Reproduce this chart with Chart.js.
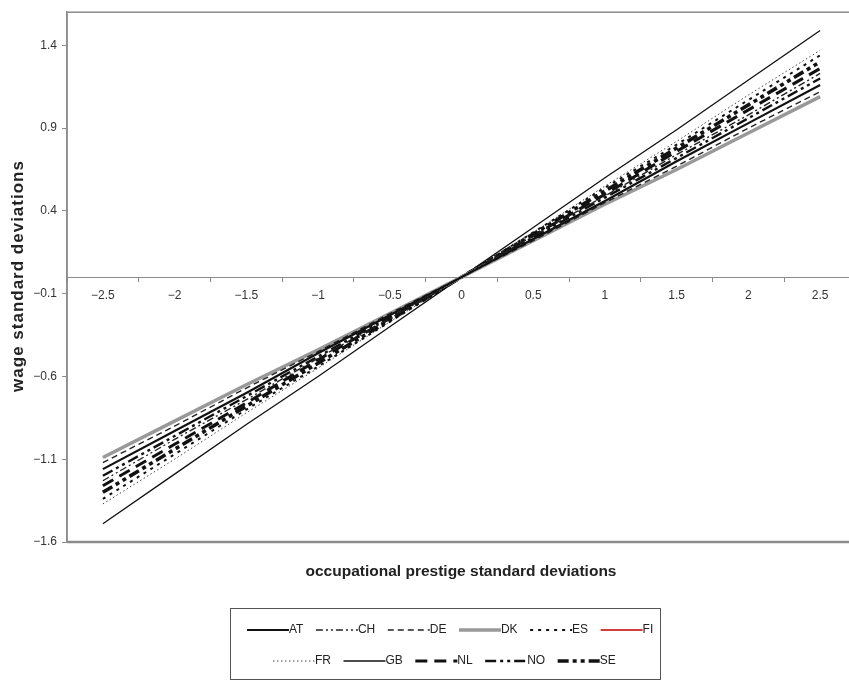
<!DOCTYPE html>
<html>
<head>
<meta charset="utf-8">
<script src="https://cdn.jsdelivr.net/npm/chart.js@4.4.1/dist/chart.umd.min.js"></script>
<style>
  html, body { margin: 0; background: #fff; overflow: hidden; }
  .wrap { width: 856px; height: 682px; position: relative; }
</style>
</head>
<body>
<div class="wrap"><canvas id="diagram"></canvas></div>
<script>
const xLabels = ["−2.5", "−2", "−1.5", "−1", "−0.5", "0", "0.5", "1", "1.5", "2", "2.5"];
const yTicks = [-1.6, -1.1, -0.6, -0.1, 0.4, 0.9, 1.4];

// values (wage sd at each prestige sd)
const AT = [-1.16, -0.93, -0.70, -0.46, -0.23, 0, 0.23, 0.46, 0.70, 0.93, 1.16];
const CH = [-1.23, -0.98, -0.74, -0.49, -0.25, 0, 0.25, 0.49, 0.74, 0.98, 1.23];
const DE = [-1.12, -0.90, -0.67, -0.45, -0.22, 0, 0.22, 0.45, 0.67, 0.90, 1.12];
const DK = [-1.09, -0.87, -0.65, -0.44, -0.22, 0, 0.22, 0.44, 0.65, 0.87, 1.09];
const ES = [-1.34, -1.07, -0.80, -0.54, -0.27, 0, 0.27, 0.54, 0.80, 1.07, 1.34];
const FI = [null, null, null, null, null, null, null, null, null, null, null];
const FR = [-1.37, -1.10, -0.82, -0.55, -0.27, 0, 0.27, 0.55, 0.82, 1.10, 1.37];
const GB = [-1.49, -1.19, -0.89, -0.60, -0.30, 0, 0.30, 0.60, 0.89, 1.19, 1.49];
const NL = [-1.26, -1.01, -0.76, -0.50, -0.25, 0, 0.25, 0.50, 0.76, 1.01, 1.26];
const NO = [-1.20, -0.96, -0.72, -0.48, -0.24, 0, 0.24, 0.48, 0.72, 0.96, 1.20];
const SE = [-1.30, -1.04, -0.78, -0.52, -0.26, 0, 0.26, 0.52, 0.78, 1.04, 1.30];

const FONT = '"Liberation Sans", Arial, sans-serif';
Chart.defaults.font.family = FONT;
Chart.defaults.color = "#333";

const minus = (v) => String(Math.round(v * 10) / 10).replace("-", "−");

const line = (label, data, color, width, dash) => ({
  label,
  data,
  borderColor: color,
  borderWidth: width,
  borderDash: dash,
  pointRadius: 0,
  tension: 0,
  fill: false,
});

// plot frame, axis titles and the boxed legend
const extras = {
  id: "extras",
  beforeDatasetsDraw(chart) {
    const { ctx, chartArea: a } = chart;
    ctx.save();
    ctx.strokeStyle = "#8c8c8c";
    ctx.lineWidth = 1.5;
    ctx.strokeRect(a.left, a.top, a.right - a.left, a.bottom - a.top);
    ctx.lineWidth = 2.5;
    ctx.beginPath();
    ctx.moveTo(a.left, a.bottom);
    ctx.lineTo(a.right, a.bottom);
    ctx.stroke();
    ctx.restore();
  },
  afterDraw(chart) {
    const ctx = chart.ctx;
    ctx.save();
    ctx.fillStyle = "#222";
    ctx.textAlign = "center";
    ctx.textBaseline = "middle";
    ctx.font = "bold 15.5px " + FONT;
    ctx.fillText("occupational prestige standard deviations", 461, 572);
    ctx.translate(18, 276);
    ctx.rotate(-Math.PI / 2);
    ctx.font = "bold 17px " + FONT;
    ctx.letterSpacing = "1px";
    ctx.fillText("wage standard deviations", 0, 0);
    ctx.restore();

    ctx.save();
    ctx.strokeStyle = "#555";
    ctx.lineWidth = 1;
    ctx.strokeRect(230.5, 608.5, 430, 71);
    ctx.font = "12px " + FONT;
    ctx.textBaseline = "middle";
    const rows = [[0, 6, 247, 630], [6, 11, 273, 661]];
    rows.forEach(([from, to, x, y]) => {
      chart.data.datasets.slice(from, to).forEach((ds) => {
        ctx.beginPath();
        ctx.setLineDash(ds.borderDash);
        ctx.lineWidth = ds.borderWidth;
        ctx.strokeStyle = ds.borderColor;
        ctx.moveTo(x, y);
        ctx.lineTo(x + 42, y);
        ctx.stroke();
        ctx.fillStyle = "#222";
        ctx.fillText(ds.label, x + 42, y);
        x += 42 + ctx.measureText(ds.label).width + 12.5;
      });
    });
    ctx.restore();
  },
};

const ctx = document.querySelector("#diagram").getContext("2d");
new Chart(ctx, {
  type: "line",
  data: {
    labels: xLabels,
    datasets: [
      line("AT", AT, "#111", 2.2, []),
      line("CH", CH, "#222", 1.4, [7, 3, 2, 3, 2, 3]),
      line("DE", DE, "#222", 1.4, [6, 4]),
      line("DK", DK, "#999", 3.5, []),
      line("ES", ES, "#111", 2, [3, 5]),
      line("FI", FI, "#c00000", 1.3, []),
      line("FR", FR, "#444", 1, [1.5, 2.5]),
      line("GB", GB, "#111", 1.3, []),
      line("NL", NL, "#111", 3, [12, 7]),
      line("NO", NO, "#111", 2.4, [11, 4, 3, 4, 3, 4]),
      line("SE", SE, "#111", 3.6, [11, 4, 4, 4, 4, 4]),
    ],
  },
  options: {
    responsive: true,
    maintainAspectRatio: false,
    animation: false,
    layout: { padding: { top: 8, right: 0, bottom: 140, left: 0 } },
    plugins: { legend: { display: false }, tooltip: { enabled: false } },
    scales: {
      x: {
        type: "category",
        offset: true,
        position: { y: 0 },
        border: { color: "#8c8c8c", width: 1 },
        grid: { offset: true, drawOnChartArea: false, drawTicks: true, tickLength: 4, color: "#8c8c8c" },
        ticks: { font: { size: 12 }, color: "#333", padding: 7, maxRotation: 0, autoSkip: false },
      },
      y: {
        min: -1.6,
        max: 1.6,
        afterFit: (s) => { s.width = 67; },
        afterBuildTicks: (s) => { s.ticks = yTicks.map((v) => ({ value: v })); },
        border: { color: "#8c8c8c", width: 1.5 },
        grid: { drawOnChartArea: false, drawTicks: true, tickLength: 5, color: "#8c8c8c" },
        ticks: { font: { size: 12 }, color: "#333", padding: 5, callback: (v) => minus(v) },
      },
    },
  },
  plugins: [extras],
});
</script>
</body>
</html>
